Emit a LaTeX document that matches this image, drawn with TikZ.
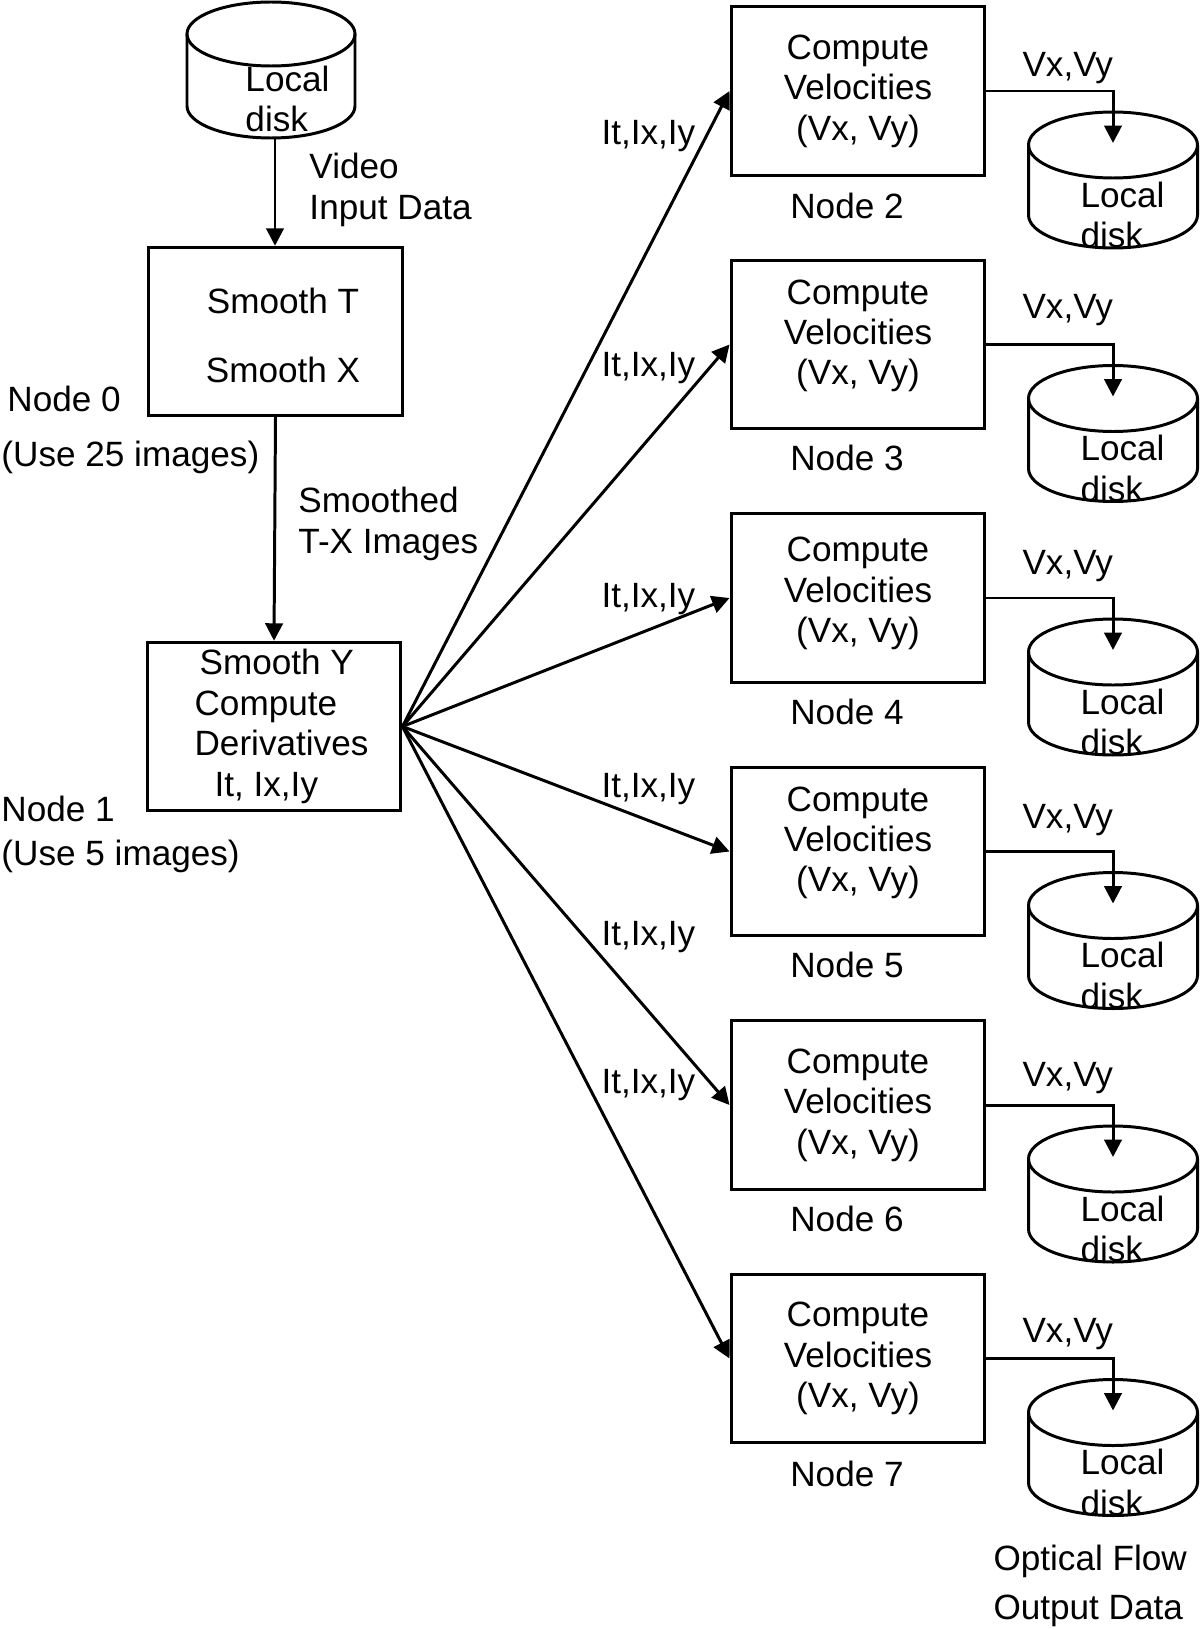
\documentclass[tikz,border=0pt]{standalone}
\usepackage{fontspec}
\setmainfont{Liberation Sans}
\usetikzlibrary{arrows.meta}

\begin{document}
\begin{tikzpicture}[x=0.02cm, y=-0.02cm, line width=1.7pt,
  font=\fontsize{20}{23}\selectfont,
  box/.style={draw, minimum width=5.08cm, minimum height=3.37cm, align=center, inner sep=0pt},
  flow/.style={-{Triangle[length=0.35cm, width=0.35cm]}},
  txt/.style={anchor=west, align=left, inner sep=0pt}]
\useasboundingbox (0,0) rectangle (1200,1629);

% input disk and node 0
\draw (187,34) -- (187,106) arc[start angle=180, end angle=0, x radius=84, y radius=32] -- (355,34);
\draw (271,34) ellipse [x radius=84, y radius=32];
\node [txt] (srctext) at (244,99) {Local\\disk};
\coordinate (src) at (275,138);

\node [box, text height=58pt, text depth=0pt] (smoothtx) at (275.5,331.5) {\hspace{0.3cm}Smooth T\\[16pt]\hspace{0.3cm}Smooth X};
\node [txt] (vidin) at (308,190) {Video\\Input Data};
\node [txt] (node0) at (0,430) {\hspace{0.12cm}Node 0\\[8pt](Use 25 images)};
\draw [flow] (src) -- (src |- smoothtx.north);

% node 1
\node [box, align=left] (smoothy) at (274,726.5) {\hspace{0.4cm}Smooth Y\\\hspace{0.3cm}Compute\\\hspace{0.3cm}Derivatives\\\hspace{0.7cm}It, Ix,Iy};
\node [txt] (smoothed) at (297,524) {Smoothed\\T-X Images};
\node [txt] (node1) at (0,834) {Node 1\\[2pt](Use 5 images)};
\draw [flow] (smoothtx.south) -- (smoothy.north);

% node 2
\node [box] (vel2) at (858,91) {Compute\\Velocities\\(Vx, Vy)};
\node (name2) at (847,206) {Node 2};
\node [txt] (out2) at (1021,68) {Vx,Vy};
\node [txt] (der2) at (600,136) {It,Ix,Iy};
\draw (1028.5,145) -- (1028.5,215) arc[start angle=180, end angle=0, x radius=84.5, y radius=33] -- (1197.5,145);
\draw (1113,145) ellipse [x radius=84.5, y radius=33];
\node [txt] (disktext2) at (1079,215) {Local\\disk};
\coordinate (disk2) at (1113,143);
\draw [flow] (smoothy.east) -- (vel2.west);
\draw [flow] (vel2.east) -| (disk2);

% node 3
\node [box] (vel3) at (858,344.5) {Compute\\Velocities\\(Vx, Vy)\\[-9pt]};
\node (name3) at (847,458) {Node 3};
\node [txt] (out3) at (1021,310) {Vx,Vy};
\node [txt] (der3) at (600,368) {It,Ix,Iy};
\draw (1028.5,398.5) -- (1028.5,468.5) arc[start angle=180, end angle=0, x radius=84.5, y radius=33] -- (1197.5,398.5);
\draw (1113,398.5) ellipse [x radius=84.5, y radius=33];
\node [txt] (disktext3) at (1079,468.5) {Local\\disk};
\coordinate (disk3) at (1113,396.5);
\draw [flow] (smoothy.east) -- (vel3.west);
\draw [flow] (vel3.east) -| (disk3);

% node 4
\node [box] (vel4) at (858,598) {Compute\\Velocities\\(Vx, Vy)\\[-14pt]};
\node (name4) at (847,712) {Node 4};
\node [txt] (out4) at (1021,566) {Vx,Vy};
\node [txt] (der4) at (600,599) {It,Ix,Iy};
\draw (1028.5,652) -- (1028.5,722) arc[start angle=180, end angle=0, x radius=84.5, y radius=33] -- (1197.5,652);
\draw (1113,652) ellipse [x radius=84.5, y radius=33];
\node [txt] (disktext4) at (1079,722) {Local\\disk};
\coordinate (disk4) at (1113,650);
\draw [flow] (smoothy.east) -- (vel4.west);
\draw [flow] (vel4.east) -| (disk4);

% node 5
\node [box] (vel5) at (858,851.5) {Compute\\Velocities\\(Vx, Vy)\\[-9pt]};
\node (name5) at (847,965) {Node 5};
\node [txt] (out5) at (1021,820) {Vx,Vy};
\node [txt] (der5) at (600,789) {It,Ix,Iy};
\draw (1028.5,905.5) -- (1028.5,975.5) arc[start angle=180, end angle=0, x radius=84.5, y radius=33] -- (1197.5,905.5);
\draw (1113,905.5) ellipse [x radius=84.5, y radius=33];
\node [txt] (disktext5) at (1079,975.5) {Local\\disk};
\coordinate (disk5) at (1113,903.5);
\draw [flow] (smoothy.east) -- (vel5.west);
\draw [flow] (vel5.east) -| (disk5);

% node 6
\node [box] (vel6) at (858,1105) {Compute\\Velocities\\(Vx, Vy)};
\node (name6) at (847,1219) {Node 6};
\node [txt] (out6) at (1021,1078) {Vx,Vy};
\node [txt] (der6) at (600,937) {It,Ix,Iy};
\draw (1028.5,1159) -- (1028.5,1229) arc[start angle=180, end angle=0, x radius=84.5, y radius=33] -- (1197.5,1159);
\draw (1113,1159) ellipse [x radius=84.5, y radius=33];
\node [txt] (disktext6) at (1079,1229) {Local\\disk};
\coordinate (disk6) at (1113,1157);
\draw [flow] (smoothy.east) -- (vel6.west);
\draw [flow] (vel6.east) -| (disk6);

% node 7
\node [box] (vel7) at (858,1358.5) {Compute\\Velocities\\(Vx, Vy)};
\node (name7) at (847,1474) {Node 7};
\node [txt] (out7) at (1021,1334) {Vx,Vy};
\node [txt] (der7) at (600,1085) {It,Ix,Iy};
\draw (1028.5,1412.5) -- (1028.5,1482.5) arc[start angle=180, end angle=0, x radius=84.5, y radius=33] -- (1197.5,1412.5);
\draw (1113,1412.5) ellipse [x radius=84.5, y radius=33];
\node [txt] (disktext7) at (1079,1482.5) {Local\\disk};
\coordinate (disk7) at (1113,1410.5);
\draw [flow] (smoothy.east) -- (vel7.west);
\draw [flow] (vel7.east) -| (disk7);

\node [txt] (optflow) at (992,1586) {Optical Flow\\[5pt]Output Data};
\end{tikzpicture}
\end{document}
